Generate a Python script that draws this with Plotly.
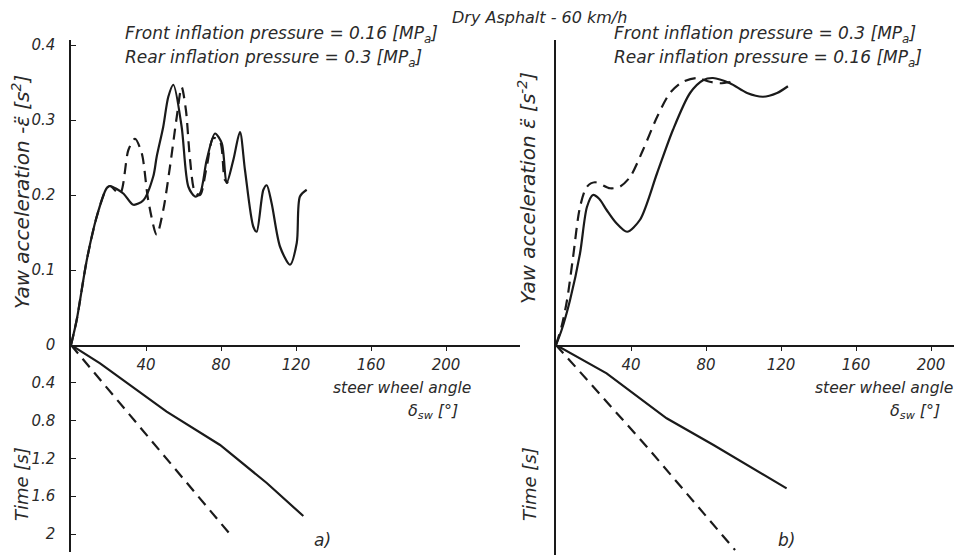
import plotly.graph_objects as go

W, H = 962, 555

# ---------------- data ----------------
# Panel a) yaw acceleration vs steer wheel angle
a_solid_angle = [0, 3, 8.4, 13.7, 19, 20.8, 27.9, 33.2, 38.6, 43.9, 45.7, 49.2, 51.9, 54.6, 59, 62.6, 66.1, 68.8,
                 72.4, 76.8, 80.4, 83, 86.6, 90.1, 92.8, 97.2, 99, 102.6, 104.4, 107, 111.5, 116.8, 120.4, 122.1, 125.7]
a_solid_acc = [0, 0.033, 0.113, 0.171, 0.209, 0.212, 0.202, 0.187, 0.193, 0.225, 0.251, 0.291, 0.331, 0.347, 0.291,
               0.211, 0.198, 0.202, 0.247, 0.282, 0.269, 0.216, 0.247, 0.284, 0.233, 0.158, 0.151, 0.207, 0.213,
               0.189, 0.131, 0.107, 0.136, 0.198, 0.207]
a_dash_angle = [0, 3, 8.4, 13.7, 19, 20.8, 26.1, 30.6, 34.1, 37.7, 41.2, 45.7, 49.2, 52.8, 56.4, 59, 61.3, 63.5,
                66.1, 68.8, 72.4, 75.9, 79.5, 82.1, 83.9]
a_dash_acc = [0, 0.033, 0.113, 0.171, 0.209, 0.212, 0.202, 0.26, 0.275, 0.256, 0.193, 0.147, 0.18, 0.238, 0.304,
              0.344, 0.313, 0.247, 0.204, 0.2, 0.238, 0.276, 0.271, 0.22, 0.216]

# Panel a) time vs steer wheel angle
a_solid_t_angle = [0, 15.5, 51, 79.5, 104.4, 123.9]
a_solid_time = [0, 0.194, 0.705, 1.058, 1.46, 1.81]
a_dash_t_angle = [0, 45.7, 86.4]
a_dash_time = [0, 1.08, 2.04]

# Panel b) yaw acceleration vs steer wheel angle
b_solid_angle = [0, 3, 7.5, 12.8, 16.5, 19.7, 23, 27, 32, 37.9, 44.8, 53.9, 62.4, 71.5, 78.4, 83.7, 92.8, 101.9,
                 110.4, 117.9, 123.7]
b_solid_acc = [0, 0.02, 0.06, 0.122, 0.184, 0.2, 0.195, 0.18, 0.163, 0.151, 0.167, 0.229, 0.287, 0.336, 0.353,
               0.356, 0.349, 0.336, 0.331, 0.336, 0.345]
b_dash_angle = [0, 3, 5.9, 9.1, 12.8, 16.5, 20.8, 28.8, 34, 39.5, 46.4, 53.9, 60.8, 67.7, 75, 82, 87.5, 93.9]
b_dash_acc = [0, 0.025, 0.06, 0.117, 0.184, 0.211, 0.217, 0.209, 0.211, 0.224, 0.26, 0.304, 0.336, 0.351, 0.356,
              0.351, 0.349, 0.351]

# Panel b) time vs steer wheel angle
b_solid_t_angle = [0, 27, 59, 84, 123]
b_solid_time = [0, 0.3, 0.776, 1.058, 1.517]
b_dash_t_angle = [0, 48.4, 95.5]
b_dash_time = [0, 1.076, 2.17]

angle_ticks = [40, 80, 120, 160, 200]
acc_ticks = [0, 0.1, 0.2, 0.3, 0.4]
acc_tick_labels = ["0", "0.1", "0.2", "0.3", "0.4"]
time_ticks = [0.4, 0.8, 1.2, 1.6, 2]
time_tick_labels = ["0.4", "0.8", "1.2", "1.6", "2"]

# ---------------- helpers ----------------
# the page body has an 8px margin, so figure coordinates are offset by it
OFF = 8

def fx(px):
    return (px - OFF) / W

def fy(py):
    return 1 - (py - OFF) / H

FONT = "DejaVu Sans"
INK = "#1a1a1a"
GREY = "#2a2a2a"

X0_L, X1_L = 71, 520
X0_R, X1_R = 556, W + OFF
Y_ZERO = 345
Y_TOP = 40
Y_BOT_L = 552
Y_BOT_R = H + OFF
PX_PER_DEG = 1.875
PX_PER_ACC = 750
PX_PER_S = 94.5

fig = go.Figure()

solid = dict(color=INK, width=2.2)
dashed = dict(color=INK, width=2.2, dash="11px,7px")

fig.add_trace(go.Scatter(x=a_solid_angle, y=a_solid_acc, mode="lines", line=dict(**solid, shape="spline", smoothing=0.8), xaxis="x", yaxis="y"))
fig.add_trace(go.Scatter(x=a_dash_angle, y=a_dash_acc, mode="lines", line=dict(**dashed, shape="spline", smoothing=0.8), xaxis="x", yaxis="y"))
fig.add_trace(go.Scatter(x=a_solid_t_angle, y=a_solid_time, mode="lines", line=solid, xaxis="x", yaxis="y2"))
fig.add_trace(go.Scatter(x=a_dash_t_angle, y=a_dash_time, mode="lines", line=dashed, xaxis="x", yaxis="y2"))

fig.add_trace(go.Scatter(x=b_solid_angle, y=b_solid_acc, mode="lines", line=dict(**solid, shape="spline", smoothing=0.8), xaxis="x2", yaxis="y3"))
fig.add_trace(go.Scatter(x=b_dash_angle, y=b_dash_acc, mode="lines", line=dict(**dashed, shape="spline", smoothing=0.8), xaxis="x2", yaxis="y3"))
fig.add_trace(go.Scatter(x=b_solid_t_angle, y=b_solid_time, mode="lines", line=solid, xaxis="x2", yaxis="y4"))
fig.add_trace(go.Scatter(x=b_dash_t_angle, y=b_dash_time, mode="lines", line=dashed, xaxis="x2", yaxis="y4"))

tickfont = dict(family=FONT, size=15, color=GREY, style="italic")
common = dict(showgrid=False, zeroline=False, showline=True, linecolor=INK, linewidth=1.5,
              tickcolor=INK, tickfont=tickfont, fixedrange=True, automargin=False)

fig.update_layout(
    template="none",
    width=W, height=H,
    margin=dict(l=0, r=0, t=0, b=0, pad=0),
    paper_bgcolor="white", plot_bgcolor="rgba(0,0,0,0)",
    showlegend=False,
    xaxis=dict(domain=[fx(X0_L), fx(X1_L)], range=[0, (X1_L - X0_L) / PX_PER_DEG], anchor="y",
               tickvals=angle_ticks, ticks="outside", ticklen=4, ticklabelstandoff=1, **common),
    yaxis=dict(domain=[fy(Y_ZERO), fy(Y_TOP)], range=[0, (Y_ZERO - Y_TOP) / PX_PER_ACC], anchor="x",
               tickvals=acc_ticks, ticktext=acc_tick_labels, ticks="inside", ticklen=5, ticklabelstandoff=11, **common),
    yaxis2=dict(domain=[fy(Y_BOT_L), fy(Y_ZERO)], range=[(Y_BOT_L - Y_ZERO) / PX_PER_S, 0], anchor="x",
                tickvals=time_ticks, ticktext=time_tick_labels, ticks="inside", ticklen=5, ticklabelstandoff=11, **common),
    xaxis2=dict(domain=[fx(X0_R), fx(X1_R)], range=[0, (X1_R - X0_R) / PX_PER_DEG], anchor="y3",
                tickvals=angle_ticks, ticks="outside", ticklen=4, ticklabelstandoff=1, **common),
    yaxis3=dict(domain=[fy(Y_ZERO), fy(Y_TOP)], range=[0, (Y_ZERO - Y_TOP) / PX_PER_ACC], anchor="x2",
                showticklabels=False, ticks="", **common),
    yaxis4=dict(domain=[fy(Y_BOT_R), fy(Y_ZERO)], range=[(Y_BOT_R - Y_ZERO) / PX_PER_S, 0], anchor="x2",
                showticklabels=False, ticks="", **common),
)

def note(text, x, y, size=15, xanchor="left", yanchor="middle", angle=0, color=GREY):
    fig.add_annotation(text=text, x=fx(x), y=fy(y), xref="paper", yref="paper", showarrow=False,
                       xanchor=xanchor, yanchor=yanchor, textangle=angle,
                       font=dict(family=FONT, size=size, color=color, style="italic"))

note("Dry Asphalt - 60 km/h", 450, 17, size=16, xanchor="left")
note("Front inflation pressure = 0.16 [MP<sub>a</sub>]", 123, 35, size=17)
note("Rear inflation pressure = 0.3 [MP<sub>a</sub>]", 123, 59, size=17)
note("Front inflation pressure = 0.3 [MP<sub>a</sub>]", 612, 35, size=17)
note("Rear inflation pressure = 0.16 [MP<sub>a</sub>]", 612, 59, size=17)

note("Yaw acceleration -\u03b5\u0308 [s<sup>2</sup>]", 21, 192, size=20, xanchor="center", angle=-90)
note("Yaw acceleration \u03b5\u0308 [s<sup>-2</sup>]", 527, 188, size=20, xanchor="center", angle=-90)
note("Time [s]", 21, 484, size=18, xanchor="center", angle=-90)
note("Time [s]", 529, 484, size=18, xanchor="center", angle=-90)

note("steer wheel angle", 473, 388, size=15.5, xanchor="right")
note("\u03b4<sub>sw</sub> [\u00b0]", 460, 411, size=16, xanchor="right")
note("steer wheel angle", 955, 388, size=15.5, xanchor="right")
note("\u03b4<sub>sw</sub> [\u00b0]", 942, 411, size=16, xanchor="right")

note("a)", 322, 540, size=17, xanchor="center")
note("b)", 786, 540, size=17, xanchor="center")

fig.write_html("out.html")
